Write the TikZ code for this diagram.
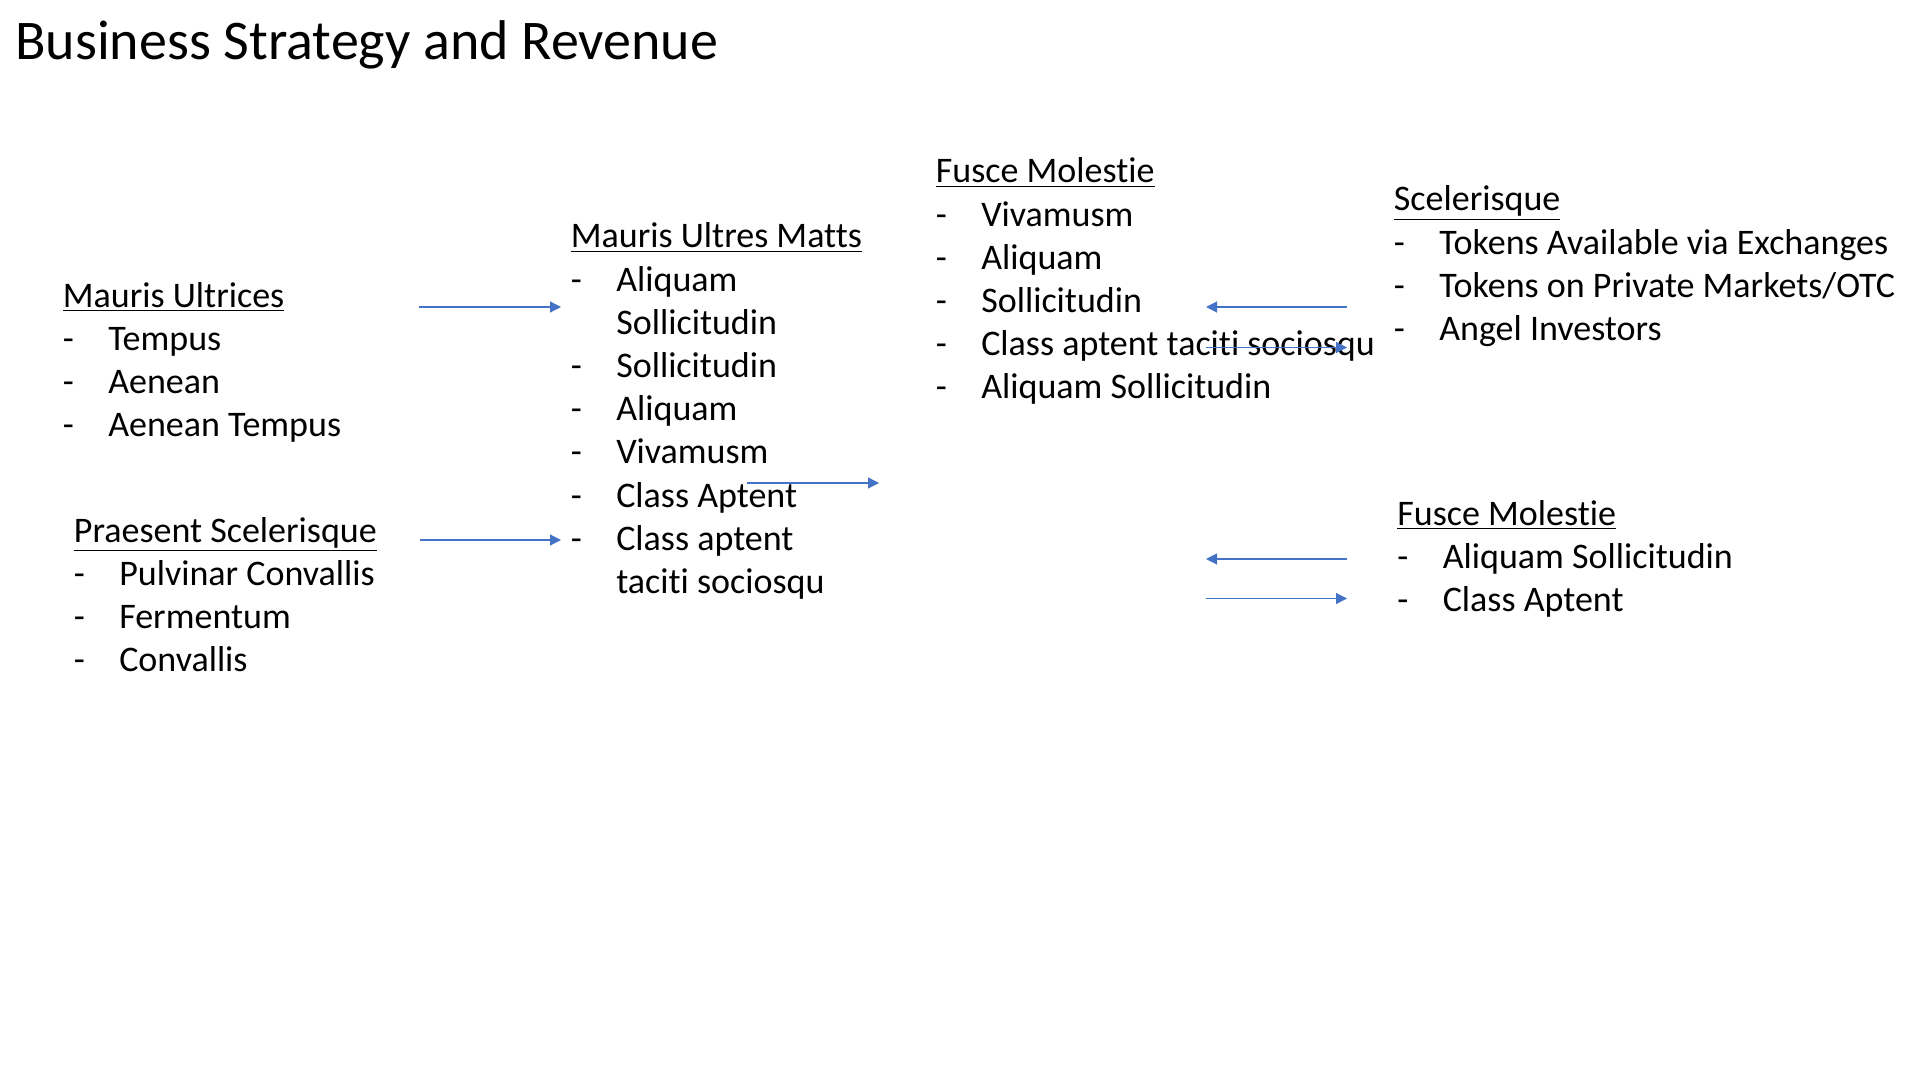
\documentclass[tikz,border=0pt]{standalone}
\usepackage{fontspec}
\setmainfont{Carlito}[Ligatures={NoCommon,NoRequired,NoContextual},Contextuals=NoAlternate]
\usetikzlibrary{arrows.meta}
\definecolor{arrowblue}{HTML}{4472C4}
\newcommand{\dashitem}{\makebox[22.7pt][l]{-}}
\newcommand{\dashgap}{\hspace*{22.7pt}}
\newcommand{\heading}[1]{\underline{#1}}
\tikzset{
  block/.style={anchor=base west, inner sep=0pt, font=\fontsize{18}{21.6}\selectfont},
  flow/.style={draw=arrowblue, line width=0.6pt, -{Triangle[length=5.5pt,width=5.5pt]}}
}
\begin{document}
\begin{tikzpicture}[x=0.5pt,y=-0.5pt]
	\useasboundingbox (0,0) rectangle (1920,1080);
	
	\node[anchor=base west, inner sep=0pt, font=\fontsize{28}{34}\selectfont] (title) at (15,60) {Business Strategy and Revenue};
	
	% left column
	\node[block] (ultrices) at (62.5,307) {\begin{tabular}[t]{@{}l@{}}\heading{Mauris Ultrices}\\ \dashitem Tempus\\ \dashitem Aenean\\ \dashitem Aenean Tempus\end{tabular}};
	\node[block] (praesent) at (73.5,542) {\begin{tabular}[t]{@{}l@{}}\heading{Praesent Scelerisque}\\ \dashitem Pulvinar Convallis\\ \dashitem Fermentum\\ \dashitem Convallis\end{tabular}};
	
	% middle
	\node[block] (matts) at (570.5,248) {\begin{tabular}[t]{@{}l@{}}\heading{Mauris Ultres Matts}\\ \dashitem Aliquam\\ \dashgap Sollicitudin\\ \dashitem Sollicitudin\\ \dashitem Aliquam\\ \dashitem Vivamusm\\ \dashitem Class Aptent\\ \dashitem Class aptent\\ \dashgap taciti sociosqu\end{tabular}};
	\node[block] (fusceA) at (935.5,183) {\begin{tabular}[t]{@{}l@{}}\heading{Fusce Molestie}\\ \dashitem Vivamusm\\ \dashitem Aliquam\\ \dashitem Sollicitudin\\ \dashitem Class aptent taciti sociosqu\\ \dashitem Aliquam Sollicitudin\end{tabular}};
	
	% right column
	\node[block] (scel) at (1393.5,211) {\begin{tabular}[t]{@{}l@{}}\heading{Scelerisque}\\ \dashitem Tokens Available via Exchanges\\ \dashitem Tokens on Private Markets/OTC\\ \dashitem Angel Investors\end{tabular}};
	\node[block] (fusceB) at (1397,525) {\begin{tabular}[t]{@{}l@{}}\heading{Fusce Molestie}\\ \dashitem Aliquam Sollicitudin\\ \dashitem Class Aptent\end{tabular}};
	
	% arrows
	\coordinate (u1) at (419,307);   \coordinate (u2) at (561,307);
	\coordinate (p1) at (420,540);   \coordinate (p2) at (561,540);
	\coordinate (m1) at (747,483);   \coordinate (m2) at (879,483);
	\coordinate (s1) at (1347,307);  \coordinate (s2) at (1206,307);
	\coordinate (s3) at (1206,347.5);\coordinate (s4) at (1347,347.5);
	\coordinate (f1) at (1347,559);  \coordinate (f2) at (1206,559);
	\coordinate (f3) at (1206,598.5);\coordinate (f4) at (1347,598.5);
	
	\draw[flow] (u1) -- (u2);
	\draw[flow] (p1) -- (p2);
	\draw[flow] (m1) -- (m2);
	\draw[flow] (s1) -- (s2);
	\draw[flow] (s3) -- (s4);
	\draw[flow] (f1) -- (f2);
	\draw[flow] (f3) -- (f4);
\end{tikzpicture}
\end{document}
